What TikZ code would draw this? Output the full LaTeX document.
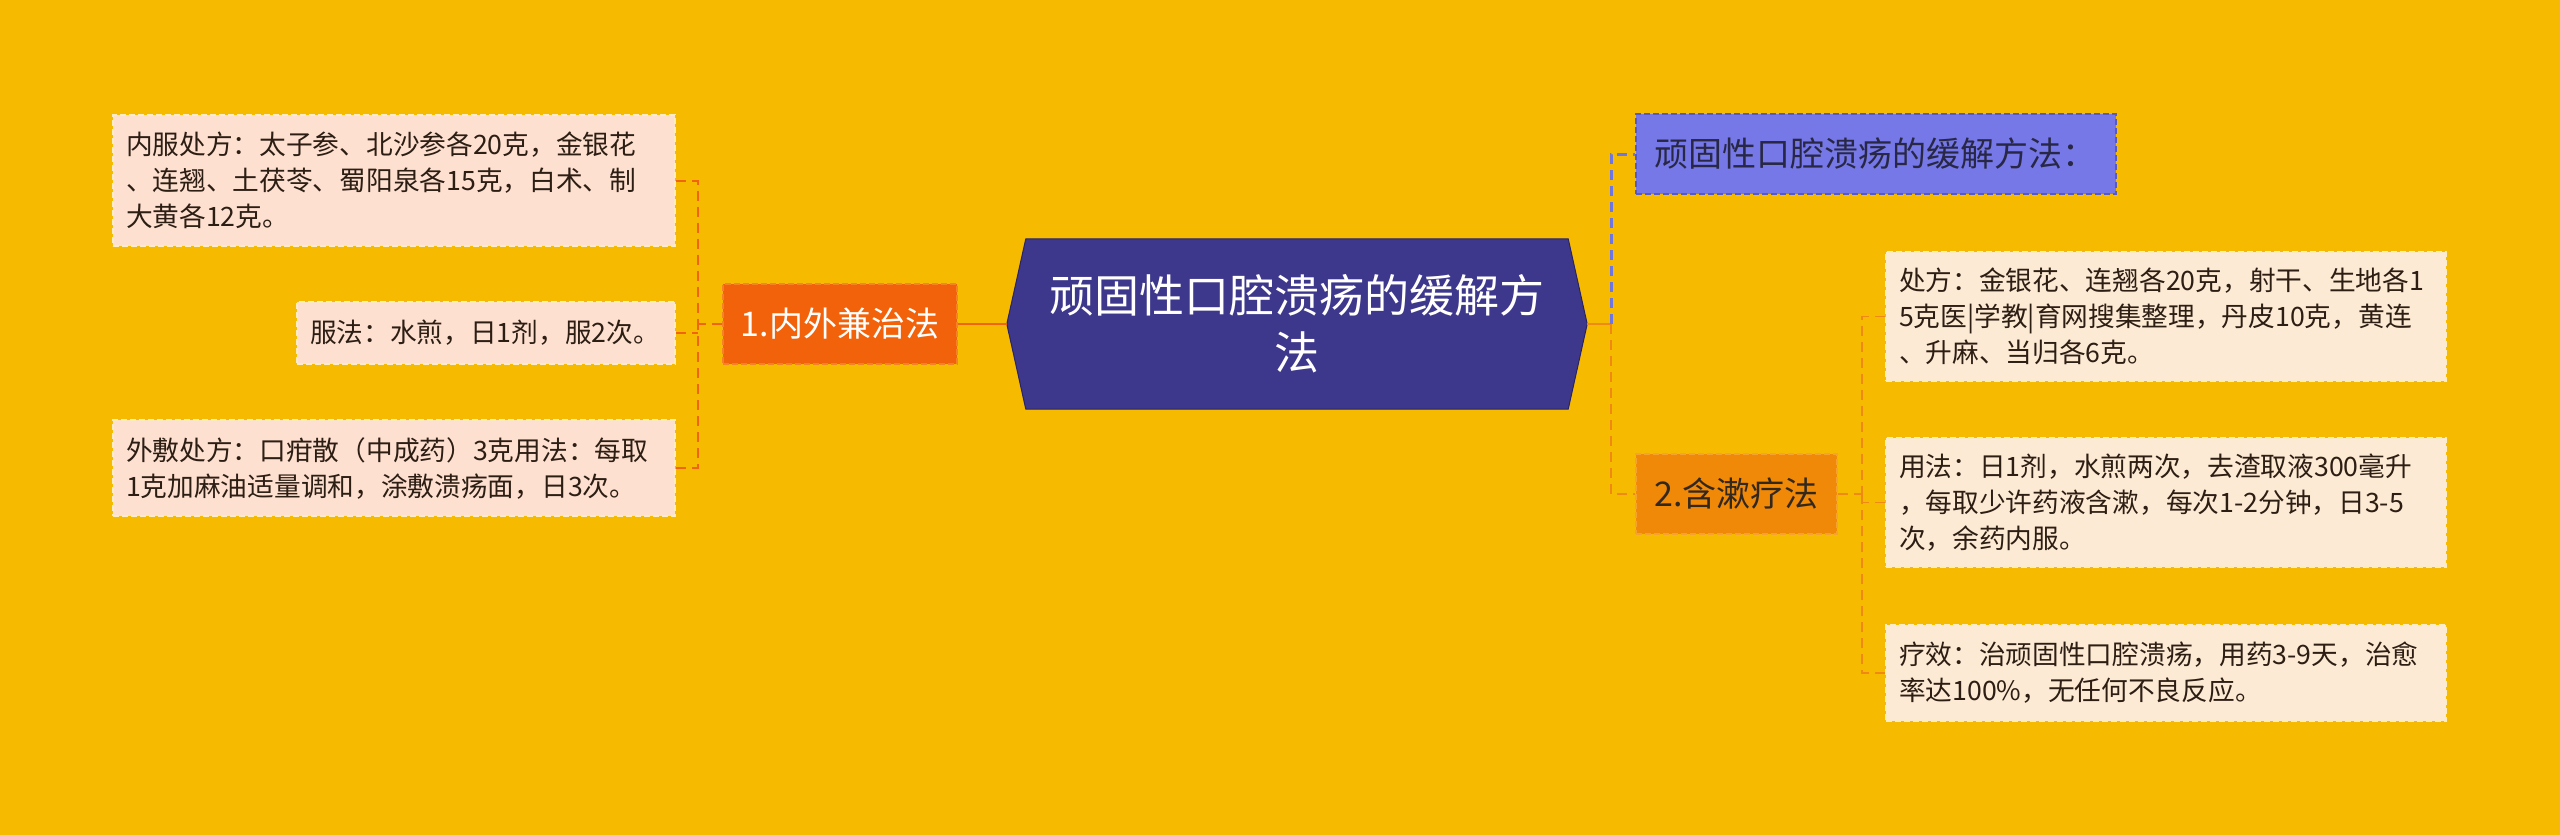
\documentclass[tikz,border=0pt]{standalone}
\usepackage{fontspec}
\setmainfont{Noto Sans CJK SC}
\usetikzlibrary{calc,backgrounds}
\definecolor{bg}{RGB}{246,186,0}
\definecolor{leafLfill}{RGB}{253,224,208}
\definecolor{leafRfill}{RGB}{253,234,212}
\definecolor{leafborder}{RGB}{252,236,196}
\definecolor{oneFill}{RGB}{242,98,10}
\definecolor{oneBorder}{RGB}{246,130,40}
\definecolor{twoFill}{RGB}{240,136,8}
\definecolor{twoBorder}{RGB}{246,162,50}
\definecolor{topFill}{RGB}{118,120,232}
\definecolor{topBorder}{RGB}{88,90,196}
\definecolor{ctrFill}{RGB}{62,56,140}
\definecolor{ctrBorder}{RGB}{40,36,100}
\definecolor{lconn}{RGB}{240,100,20}
\definecolor{rconn}{RGB}{240,136,20}
\definecolor{bconn}{RGB}{110,118,225}
\definecolor{txt}{RGB}{45,30,20}
\definecolor{txttwo}{RGB}{50,40,30}
\definecolor{txttop}{RGB}{40,40,70}
\begin{document}
\begin{tikzpicture}[x=1pt,y=-1pt,
  leafbox/.style={rectangle, draw=leafborder, line width=2pt, dash pattern=on 6pt off 3pt,
    align=left, inner xsep=13pt, inner ysep=0pt, text=txt,
    font=\fontsize{26.7}{36}\selectfont, anchor=center},
  leafL/.style={leafbox, fill=leafLfill},
  leafR/.style={leafbox, fill=leafRfill},
  topic/.style={rectangle, line width=2pt, dash pattern=on 6pt off 3pt, align=center,
    inner sep=0pt, font=\fontsize{34}{40}\selectfont, anchor=center, minimum height=80pt},
  oneNode/.style={topic, fill=oneFill, draw=oneBorder, text=white},
  twoNode/.style={topic, fill=twoFill, draw=twoBorder, text=txttwo},
  topNode/.style={topic, fill=topFill, draw=topBorder, text=txttop},
  ctrNode/.style={rectangle, inner sep=0pt, align=center, text=white,
    font=\fontsize{45}{57}\selectfont, minimum width=580pt, minimum height=170pt},
  hexs/.style={fill=ctrFill, draw=ctrBorder, line width=1pt},
  lline/.style={draw=lconn, line width=2pt, dash pattern=on 10pt off 6pt},
  lsolid/.style={draw=lconn, line width=2.5pt},
  rline/.style={draw=rconn, line width=2pt, dash pattern=on 10pt off 6pt},
  rsolid/.style={draw=rconn, line width=2.5pt},
  bline/.style={draw=bconn, line width=3pt, dash pattern=on 10pt off 6pt}
]
\useasboundingbox (0,0) rectangle (2560,835);

% left leaves
\node[leafL, text width=536pt, minimum height=131pt] (b1) at (394,180.5)
  {内服处方：太子参、北沙参各20克，金银花\\、连翘、土茯苓、蜀阳泉各15克，白术、制\\大黄各12克。};
\node[leafL, text width=352pt, minimum height=62pt] (b2) at (486,333)
  {服法：水煎，日1剂，服2次。};
\node[leafL, text width=536pt, minimum height=96pt] (b3) at (394,468)
  {外敷处方：口疳散（中成药）3克用法：每取\\1克加麻油适量调和，涂敷溃疡面，日3次。};

% level-1 nodes
\node[oneNode, minimum width=234pt] (n1) at (840,324) {1.内外兼治法};
\node[topNode, minimum width=480pt, text width=444pt, align=left] (t) at (1876,154) {顽固性口腔溃疡的缓解方法：};
\node[twoNode, minimum width=201pt] (n2) at (1736.5,494) {2.含漱疗法};

% right leaves
\node[leafR, text width=534pt, minimum height=129pt] (r1) at (2166,316.5)
  {处方：金银花、连翘各20克，射干、生地各1\\5克医|学教|育网搜集整理，丹皮10克，黄连\\、升麻、当归各6克。};
\node[leafR, text width=534pt, minimum height=129pt] (r2) at (2166,502.5)
  {用法：日1剂，水煎两次，去渣取液300毫升\\，每取少许药液含漱，每次1-2分钟，日3-5\\次，余药内服。};
\node[leafR, text width=534pt, minimum height=96pt] (r3) at (2166,673)
  {疗效：治顽固性口腔溃疡，用药3-9天，治愈\\率达100\%，无任何不良反应。};

% center
\node[ctrNode] (c) at (1297,324) {顽固性口腔溃疡的缓解方\\法};
\begin{scope}[on background layer]
\fill[bg] (0,0) rectangle (2560,835);
\draw[hexs] (c.west) -- ($(c.north west)+(19,0)$) -- ($(c.north east)+(-19,0)$)
  -- (c.east) -- ($(c.south east)+(-19,0)$) -- ($(c.south west)+(19,0)$) -- cycle;
\end{scope}

% left connectors
\coordinate (lj) at ($(n1.west)+(-24,0)$);
\draw[lsolid] (c.west) -- (n1.east);
\draw[lline] (n1.west) -- (lj);
\draw[lline] (b1.east) -| (lj);
\draw[lline] (b3.east) -| (lj);
\draw[lline] (b2.east) -- (b2.east -| lj);

% right connectors
\coordinate (rj) at ($(c.east)+(24,0)$);
\draw[rsolid] (c.east) -- (rj);
\draw[bline] (rj) |- (t.west);
\draw[rline] (rj) |- (n2.west);
\coordinate (rj2) at ($(n2.east)+(24,0)$);
\draw[rline, line width=1.6pt] (n2.east) -- (rj2);
\draw[rline, line width=1.6pt] (r1.west) -| (rj2);
\draw[rline, line width=1.6pt] (r3.west) -| (rj2);
\draw[rline, line width=1.6pt] (r2.west) -- (r2.west -| rj2);
\end{tikzpicture}
\end{document}
